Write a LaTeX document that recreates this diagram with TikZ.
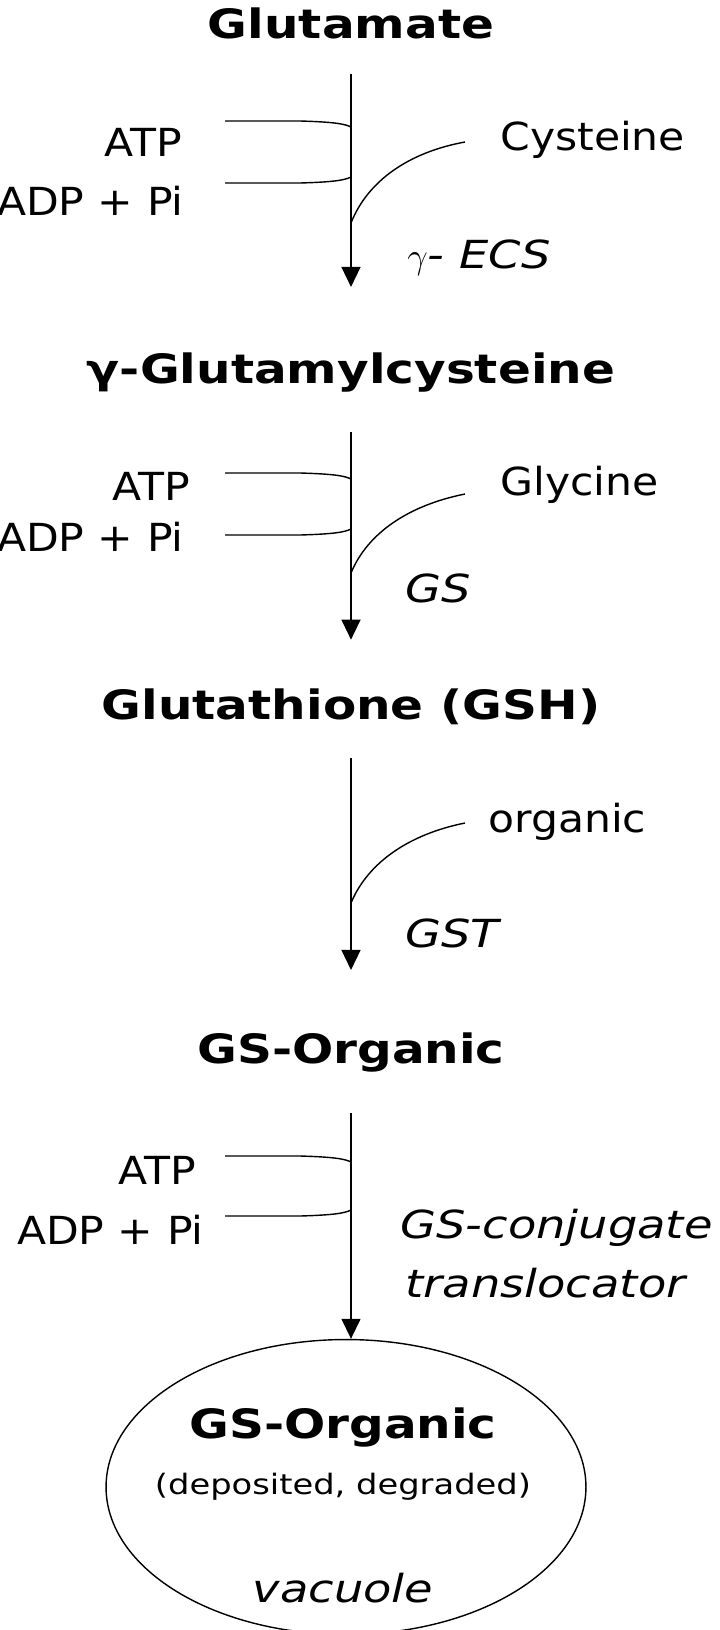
\documentclass[tikz,border=0pt]{standalone}
\usepackage{fontspec}
\setmainfont{DejaVu Sans}[FakeStretch=1.2]
\newfontfamily\reagentfont{DejaVu Sans}[FakeStretch=1.1]
\usetikzlibrary{positioning,arrows.meta,shapes.geometric}

\begin{document}
\begin{tikzpicture}[
      x=0.02cm, y=-0.02cm,
      compound/.style={inner sep=0pt, font=\fontsize{23}{26}\selectfont\bfseries},
      reagent/.style={inner sep=0pt, font=\reagentfont\fontsize{22}{25}\selectfont},
      enzyme/.style={inner sep=0pt, anchor=west, font=\fontsize{22}{25}\selectfont\itshape},
      arrow/.style={-{Triangle[length=0.4cm,width=0.38cm]}, thick},
      side/.style={thick}
    ]
      \useasboundingbox (0,0) rectangle (720,1630);

      % Compounds
      \node[compound] (glu) at (351,23) {Glutamate};
      \node[compound] (gec) at (351,373) {γ-Glutamylcysteine};
      \node[compound] (gsh) at (351,707) {Glutathione (GSH)};
      \node[compound] (gso) at (351,1052) {GS-Organic};
      \node[draw, thick, ellipse, minimum width=9.6cm, minimum height=5.9cm] (vac) at (346,1487) {};
      \node[compound] (gsv) at (343,1427) {GS-Organic};
      \node[inner sep=0pt, font=\fontsize{16}{19}\selectfont] (dep) at (343,1487) {(deposited, degraded)};
      \node[inner sep=0pt, font=\fontsize{22}{25}\selectfont\itshape] (vacl) at (343,1588) {vacuole};

      % Arrows
      \draw[arrow, shorten <=0.70cm, shorten >=1.32cm] (glu) -- (gec);
      \draw[arrow, shorten <=0.78cm, shorten >=0.98cm] (gec) -- (gsh);
      \draw[arrow, shorten <=0.66cm, shorten >=1.24cm] (gsh) -- (gso);
      \draw[arrow, shorten <=0.82cm] (gso) -- (gso |- vac.north);

      % Cofactors
      \node[reagent, anchor=east] (atp1) at (182,142) {ATP};
      \node[reagent, anchor=east] (adp1) at (184,201) {ADP + Pi};
      \node[reagent, anchor=east] (atp2) at (190,486) {ATP};
      \node[reagent, anchor=east] (adp2) at (184,537) {ADP + Pi};
      \node[reagent, anchor=east] (atp4) at (196,1170) {ATP};
      \node[reagent, anchor=east] (adp4) at (204,1230) {ADP + Pi};
      \node[reagent, anchor=west] (cys) at (500,140) {Cysteine};
      \node[reagent, anchor=west] (gly) at (500,485) {Glycine};
      \node[reagent, anchor=west] (org) at (488,822) {organic};

      % Enzymes
      \node[enzyme] (ecs) at (407,258) {$\gamma$- ECS};
      \node[enzyme] (gs) at (405,588) {GS};
      \node[enzyme] (gst) at (405,933) {GST};
      \node[enzyme] (gsc) at (400,1228) {GS-conjugate};
      \node[enzyme] (trl) at (405,1283) {translocator};

      % Side branches
      \coordinate (a1) at (225,121); \coordinate (b1) at (225,183); \coordinate (c1) at (465,142);
      \coordinate (a2) at (225,473); \coordinate (b2) at (225,535); \coordinate (c2) at (465,494);
      \coordinate (c3) at (465,823);
      \coordinate (a4) at (225,1156); \coordinate (b4) at (225,1216);
      \draw[side] (a1) -- (300,121) .. controls (335,122) and (345,124) .. (351,127);
      \draw[side] (b1) -- (300,183) .. controls (335,182) and (345,180) .. (351,177);
      \draw[side] (c1) .. controls (410,152) and (368,180) .. (351,223);
      \draw[side] (a2) -- (300,473) .. controls (335,474) and (345,476) .. (351,479);
      \draw[side] (b2) -- (300,535) .. controls (335,534) and (345,532) .. (351,529);
      \draw[side] (c2) .. controls (410,505) and (368,532) .. (351,573);
      \draw[side] (c3) .. controls (410,834) and (368,862) .. (351,903);
      \draw[side] (a4) -- (300,1156) .. controls (335,1157) and (345,1159) .. (351,1162);
      \draw[side] (b4) -- (300,1216) .. controls (335,1215) and (345,1213) .. (351,1210);
    \end{tikzpicture}
\end{document}
